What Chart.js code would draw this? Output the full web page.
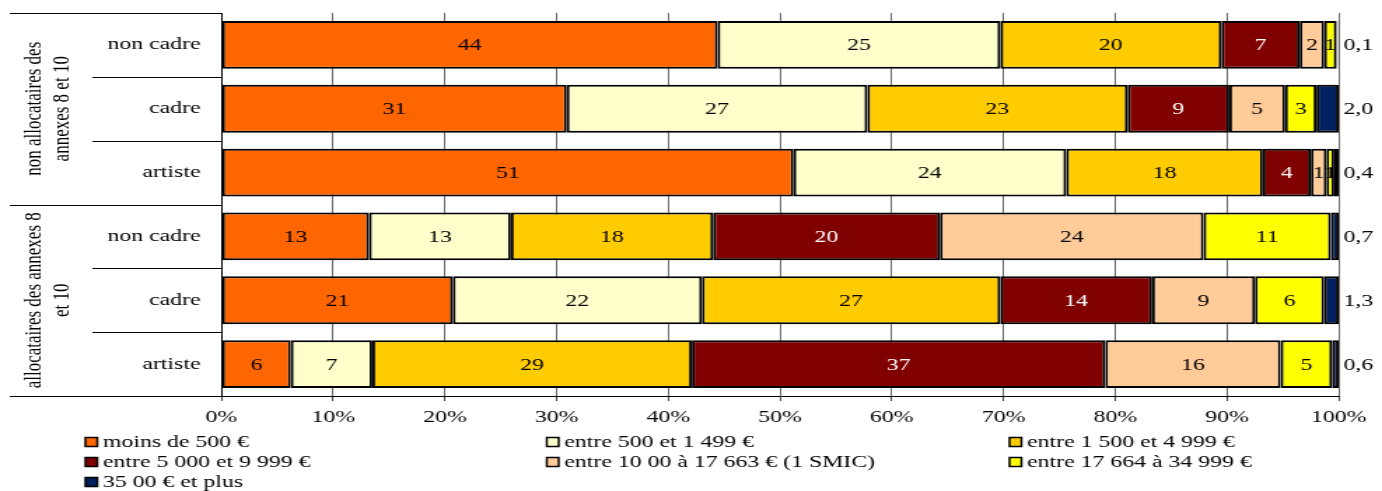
<!DOCTYPE html>
<html>
<head>
<meta charset="utf-8">
<script src="https://cdn.jsdelivr.net/npm/chart.js@4"></script>
<style>
    html, body { margin: 0; padding: 0; background: #fff; }
</style>
</head>
<body>
<canvas id="chart" width="987" height="491" style="display:block;width:1382px;height:491px"></canvas>
<script>
(function () {
    "use strict";

    // Data
    const categories = ["non cadre", "cadre", "artiste", "non cadre", "cadre", "artiste"];
    const groups = [
        ["non allocataires des", "annexes 8 et 10"],
        ["allocataires des annexes 8", "et 10"],
    ];
    const seriesNames = [
        "moins de 500 €",
        "entre 500 et 1 499 €",
        "entre 1 500 et 4 999 €",
        "entre 5 000 et 9 999 €",
        "entre 10 00 à 17 663 € (1 SMIC)",
        "entre 17 664 à 34 999 €",
        "35 00 € et plus",
    ];
    const moins500 = [44.4, 30.9, 51.2, 13.2, 20.7, 6.2];
    const de500a1499 = [25.3, 26.9, 24.4, 12.7, 22.3, 7.3];
    const de1500a4999 = [19.8, 23.3, 17.6, 18.1, 26.7, 28.6];
    const de5000a9999 = [7.0, 9.1, 4.3, 20.3, 13.6, 37.0];
    const de10000a17663 = [2.2, 5.0, 1.4, 23.6, 9.2, 15.7];
    const de17664a34999 = [1.1, 2.8, 0.7, 11.4, 6.2, 4.6];
    const plus35000 = [0.1, 2.0, 0.4, 0.7, 1.3, 0.6];
    const tickValues = [0, 10, 20, 30, 40, 50, 60, 70, 80, 90, 100];

    const series = [moins500, de500a1499, de1500a4999, de5000a9999, de10000a17663, de17664a34999, plus35000];
    const colors = ["#FF6600", "#FFFFCC", "#FFCC00", "#800000", "#FFCC99", "#FFFF00", "#002060"];

    // the original is a stretched picture: canvas is drawn 987 wide, shown 1382 wide
    const FONT = "'Liberation Serif', 'Times New Roman', serif";
    Chart.defaults.font.family = FONT;
    Chart.defaults.font.size = 17;
    Chart.defaults.color = "#000";

    // Labels inside the bars, last series written after the bar end
    const segmentLabels = {
        id: "segmentLabels",
        afterDatasetsDraw(chart) {
            const ctx = chart.ctx;
            const last = series.length - 1;
            ctx.save();
            ctx.font = "17px " + FONT;
            ctx.textBaseline = "middle";
            chart.data.datasets.forEach((ds, i) => {
                chart.getDatasetMeta(i).data.forEach((bar, j) => {
                    const v = ds.data[j];
                    if (i === last) {
                        ctx.textAlign = "left";
                        ctx.fillStyle = "#000";
                        ctx.fillText(v.toFixed(1).replace(".", ","), chart.chartArea.right + 3.5, bar.y + 1);
                    } else {
                        ctx.textAlign = "center";
                        ctx.fillStyle = i === 3 ? "#fff" : "#000";
                        ctx.fillText(String(Math.round(v)), (bar.x + bar.base) / 2, bar.y + 1);
                    }
                });
            });
            ctx.restore();
        },
    };

    // Separators, group titles and legend
    const frame = {
        id: "frame",
        afterDraw(chart) {
            const { ctx, chartArea } = chart;
            const rowH = (chartArea.bottom - chartArea.top) / categories.length;
            ctx.save();
            ctx.strokeStyle = "#000";
            ctx.lineWidth = 1;
            for (let i = 0; i <= categories.length; i++) {
                const py = Math.round(chartArea.top + i * rowH) + 0.5;
                ctx.beginPath();
                ctx.moveTo(i % 3 === 0 ? 7 : 66, py);
                ctx.lineTo(chartArea.left, py);
                ctx.stroke();
            }

            ctx.fillStyle = "#000";
            ctx.font = "17px " + FONT;
            ctx.textAlign = "center";
            ctx.textBaseline = "alphabetic";
            groups.forEach((lines, g) => {
                const yc = chartArea.top + (g * 3 + 1.5) * rowH;
                ctx.save();
                ctx.translate(29, yc);
                ctx.rotate(-Math.PI / 2);
                lines.forEach((t, k) => ctx.fillText(t, 0, k * 20));
                ctx.restore();
            });

            const legendX = [61, 390.5, 721];
            const legendY = [442, 462, 482];
            ctx.textAlign = "left";
            ctx.textBaseline = "middle";
            seriesNames.forEach((name, i) => {
                const lx = legendX[i % 3];
                const ly = legendY[Math.floor(i / 3)];
                ctx.fillStyle = colors[i];
                ctx.fillRect(lx, ly - 4.5, 8.5, 9);
                ctx.lineWidth = 1.5;
                ctx.strokeRect(lx, ly - 4.5, 8.5, 9);
                ctx.fillStyle = "#000";
                ctx.fillText(name, lx + 12.5, ly + 1);
            });
            ctx.restore();
        },
    };

    const ctx = document.getElementById("chart").getContext("2d");
    new Chart(ctx, {
        type: "bar",
        data: {
            labels: categories,
            datasets: series.map((data, i) => ({
                label: seriesNames[i],
                data: data,
                backgroundColor: colors[i],
                borderColor: "#000",
                borderWidth: 2,
                borderSkipped: false,
                barPercentage: 0.75,
                categoryPercentage: 1,
            })),
        },
        options: {
            indexAxis: "y",
            responsive: false,
            animation: false,
            devicePixelRatio: 1,
            layout: { padding: { top: 13, right: 30.9, bottom: 65, left: 0 } },
            plugins: {
                legend: { display: false },
                tooltip: { enabled: false },
            },
            scales: {
                x: {
                    stacked: true,
                    min: 0,
                    max: 100,
                    afterBuildTicks: (scale) => {
                        scale.ticks = tickValues.map((v) => ({ value: v }));
                    },
                    ticks: {
                        callback: (v) => v + "%",
                        padding: 6,
                        maxRotation: 0,
                        autoSkip: false,
                    },
                    grid: { color: "#666", lineWidth: 1, tickLength: 5, tickColor: "#444" },
                    border: { display: true, color: "#000", width: 1 },
                    afterFit: (scale) => {
                        scale.height = 30;
                    },
                },
                y: {
                    stacked: true,
                    ticks: { padding: 15 },
                    grid: { display: false, drawTicks: false },
                    border: { display: true, color: "#000", width: 1 },
                    afterFit: (scale) => {
                        scale.width = 158.2;
                        scale.paddingTop = 0;
                        scale.paddingBottom = 0;
                    },
                },
            },
        },
        plugins: [segmentLabels, frame],
    });
})();
</script>
</body>
</html>
